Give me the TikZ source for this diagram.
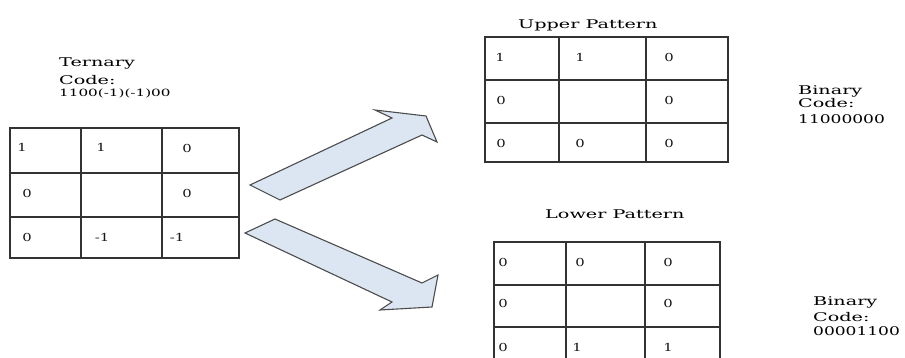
\documentclass[tikz,border=0pt]{standalone}
\usepackage{graphicx}
\usepackage{fontspec}
\setmainfont{DejaVu Serif}
\definecolor{arrowblue}{HTML}{DCE6F2}
\newcommand\widen[2][1.6]{\scalebox{#1}[1]{#2}}
\newcommand\headtextstyle{\fontsize{12}{12}\selectfont}
\newcommand\codetextstyle{\fontsize{10}{10}\selectfont}
\newcommand\celltextstyle{\fontsize{11}{11}\selectfont}
\newcommand\cellnum[1]{\widen[1.35]{\celltextstyle #1}}
\newcommand\gridstyle{[line width=1.6pt, draw=black!80]}
\newcommand\patterngrid[8]{
  \draw (#1, #5)\gridstyle rectangle (#4, #8) ;
  \draw (#2, #5)\gridstyle -- (#2, #8) ;
  \draw (#3, #5)\gridstyle -- (#3, #8) ;
  \draw (#1, #6)\gridstyle -- (#4, #6) ;
  \draw (#1, #7)\gridstyle -- (#4, #7) ;
}
\tikzset{
  headtext/.style={anchor=base west, inner sep=0pt, text=black},
  celltext/.style={anchor=center, inner sep=0pt, text=black!90},
  blockarrow/.style={draw=black!70, line width=1.1pt, fill=arrowblue, line join=miter},
}

\begin{document}
\begin{tikzpicture}[x=1pt, y=-1pt]
    \useasboundingbox (0, 0) rectangle (905, 358) ;
    \clip (0, 0) rectangle (905, 358) ;
    % ternary side
    \node[headtext] (ternary) at (59, 67) {\widen{\headtextstyle Ternary}} ;
    \node[headtext] (ternarycode) at (59, 85) {\widen{\headtextstyle Code:}} ;
    \node[headtext] (ternaryval) at (59, 97) {\widen[1.52]{\codetextstyle 1100(-1)(-1)00}} ;
    \patterngrid{10}{81}{162}{239}{128}{173}{217}{258}
    \node[celltext] (t11) at (22, 147) {\cellnum{1}} ;
    \node[celltext] (t12) at (101, 147) {\cellnum{1}} ;
    \node[celltext] (t13) at (187, 148) {\cellnum{0}} ;
    \node[celltext] (t21) at (27, 193) {\cellnum{0}} ;
    \node[celltext] (t23) at (187, 193) {\cellnum{0}} ;
    \node[celltext] (t31) at (27, 237) {\cellnum{0}} ;
    \node[celltext] (t32) at (102, 237) {\cellnum{-1}} ;
    \node[celltext] (t33) at (177, 237) {\cellnum{-1}} ;
    % arrows
    \draw[blockarrow] (250, 185) -- (392, 118) -- (375, 110) -- (426, 116)
      -- (437, 142) -- (422, 135) -- (280, 200) -- cycle ;
    \draw[blockarrow] (275, 219) -- (422, 283) -- (438, 275) -- (432, 307)
      -- (380, 310) -- (392, 302) -- (245, 233) -- cycle ;
    % upper pattern
    \node[headtext] (upper) at (518, 29) {\widen{\headtextstyle Upper Pattern}} ;
    \patterngrid{485}{559}{646}{728}{37}{80}{123}{162}
    \node[celltext] (u11) at (500, 57) {\cellnum{1}} ;
    \node[celltext] (u12) at (580, 57) {\cellnum{1}} ;
    \node[celltext] (u13) at (669, 57) {\cellnum{0}} ;
    \node[celltext] (u21) at (501, 100) {\cellnum{0}} ;
    \node[celltext] (u23) at (669, 100) {\cellnum{0}} ;
    \node[celltext] (u31) at (501, 143) {\cellnum{0}} ;
    \node[celltext] (u32) at (580, 143) {\cellnum{0}} ;
    \node[celltext] (u33) at (669, 143) {\cellnum{0}} ;
    \node[headtext] (upperbin) at (798, 95) {\widen{\headtextstyle Binary}} ;
    \node[headtext] (uppercode) at (798, 108) {\widen{\headtextstyle Code:}} ;
    \node[headtext] (upperval) at (798, 124) {\widen[1.42]{\headtextstyle 11000000}} ;
    % lower pattern
    \node[headtext] (lower) at (545, 219) {\widen{\headtextstyle Lower Pattern}} ;
    \patterngrid{494}{566}{645}{720}{242}{285}{327}{372}
    \node[celltext] (l11) at (503, 262) {\cellnum{0}} ;
    \node[celltext] (l12) at (580, 262) {\cellnum{0}} ;
    \node[celltext] (l13) at (668, 262) {\cellnum{0}} ;
    \node[celltext] (l21) at (503, 303) {\cellnum{0}} ;
    \node[celltext] (l23) at (668, 303) {\cellnum{0}} ;
    \node[celltext] (l31) at (503, 347) {\cellnum{0}} ;
    \node[celltext] (l32) at (577, 347) {\cellnum{1}} ;
    \node[celltext] (l33) at (668, 347) {\cellnum{1}} ;
    \node[headtext] (lowerbin) at (813, 305) {\widen{\headtextstyle Binary}} ;
    \node[headtext] (lowercode) at (813, 321) {\widen{\headtextstyle Code:}} ;
    \node[headtext] (lowerval) at (813, 335) {\widen[1.42]{\headtextstyle 00001100}} ;
  \end{tikzpicture}
\end{document}
